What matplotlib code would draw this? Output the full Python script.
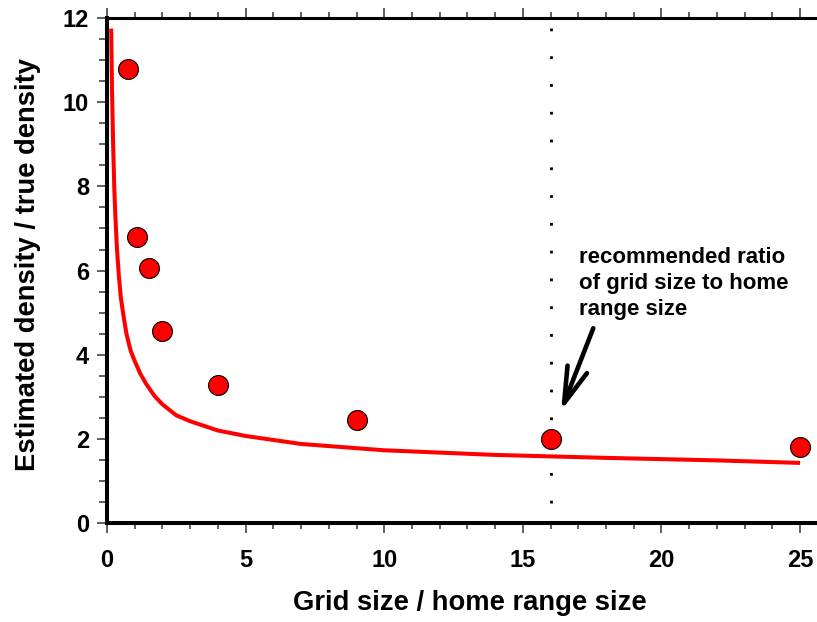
import matplotlib
matplotlib.use("Agg")
import matplotlib.pyplot as plt
from matplotlib.ticker import MultipleLocator

# Observed ratios (red dots)
grid_ratio = [0.77, 1.08, 1.5, 2.0, 4.0, 9.0, 16.0, 25.0]
density_ratio = [10.8, 6.8, 6.06, 4.56, 3.27, 2.46, 2.0, 1.8]

# Fitted curve
curve_x = [0.15, 0.18, 0.22, 0.26, 0.3, 0.36, 0.43, 0.5, 0.6, 0.7, 0.85, 1.0,
           1.2, 1.4, 1.7, 2.0, 2.5, 3.0, 4.0, 5.0, 7.0, 10.0, 14.0, 18.0,
           22.0, 25.0]
curve_y = [11.75, 10.3, 9.0, 8.0, 7.3, 6.5, 5.85, 5.35, 4.9, 4.5, 4.1, 3.85,
           3.55, 3.32, 3.03, 2.82, 2.56, 2.42, 2.2, 2.07, 1.88, 1.73, 1.62,
           1.55, 1.49, 1.43]

recommended = 16
note = "recommended ratio\nof grid size to home\nrange size"

plt.rcParams["font.family"] = ["Liberation Sans", "DejaVu Sans"]
plt.rcParams["font.weight"] = "bold"

fig = plt.figure(figsize=(8.17, 6.22), dpi=100)
ax = fig.add_axes([0.131, 0.159, 0.869, 0.812])

ax.plot(curve_x, curve_y, color="#ff0000", lw=2.9, solid_capstyle="butt",
        solid_joinstyle="round", zorder=2)
ax.scatter(grid_ratio, density_ratio, s=205, color="#ff0000", edgecolor="black",
           linewidth=0.8, zorder=3, clip_on=False)

# dotted line for the recommended ratio (drawn top to bottom)
ax.plot([recommended, recommended], [11.77, 0.2], color="black", lw=2,
        linestyle=(0, (1, 9)), zorder=1)

ax.text(17.03, 6.55, note, fontsize=16, fontweight="bold", va="top", ha="left",
        linespacing=1.3)
ax.annotate("", xy=(16.38, 2.67), xytext=(17.54, 4.63),
            arrowprops=dict(arrowstyle="->,head_length=2.6,head_width=0.75",
                            lw=3.3, color="black", shrinkA=0, shrinkB=0))

ax.set_xlim(0, 25.61)
ax.set_ylim(0, 12)
ax.xaxis.set_major_locator(MultipleLocator(5))
ax.xaxis.set_minor_locator(MultipleLocator(1))
ax.yaxis.set_major_locator(MultipleLocator(2))
ax.yaxis.set_minor_locator(MultipleLocator(0.5))

ax.spines["right"].set_visible(False)
ax.spines["left"].set_linewidth(2.9)
ax.spines["bottom"].set_linewidth(2.9)
ax.spines["top"].set_linewidth(2.2)

ax.tick_params(axis="x", which="both", top=True, bottom=True, labeltop=False)
ax.tick_params(axis="x", which="major", direction="out", length=7, width=1.2,
               color="#444444", labelsize=17, pad=12)
ax.tick_params(axis="x", which="minor", direction="out", length=4.5, width=1.2,
               color="#444444")
ax.tick_params(axis="y", which="major", direction="out", length=7, width=1.2,
               color="#444444", labelsize=17, pad=6)
ax.tick_params(axis="y", which="minor", direction="out", length=6, width=1.2,
               color="#444444")
for lbl in ax.get_xticklabels() + ax.get_yticklabels():
    lbl.set_fontweight("bold")

ax.set_xlabel("Grid size / home range size", fontsize=19.7, fontweight="bold")
ax.set_ylabel("Estimated density / true density", fontsize=19.7, fontweight="bold")
ax.xaxis.set_label_coords(0.511, -0.132)
ax.yaxis.set_label_coords(-0.093, 0.513)

fig.savefig("out.png", dpi=100)
